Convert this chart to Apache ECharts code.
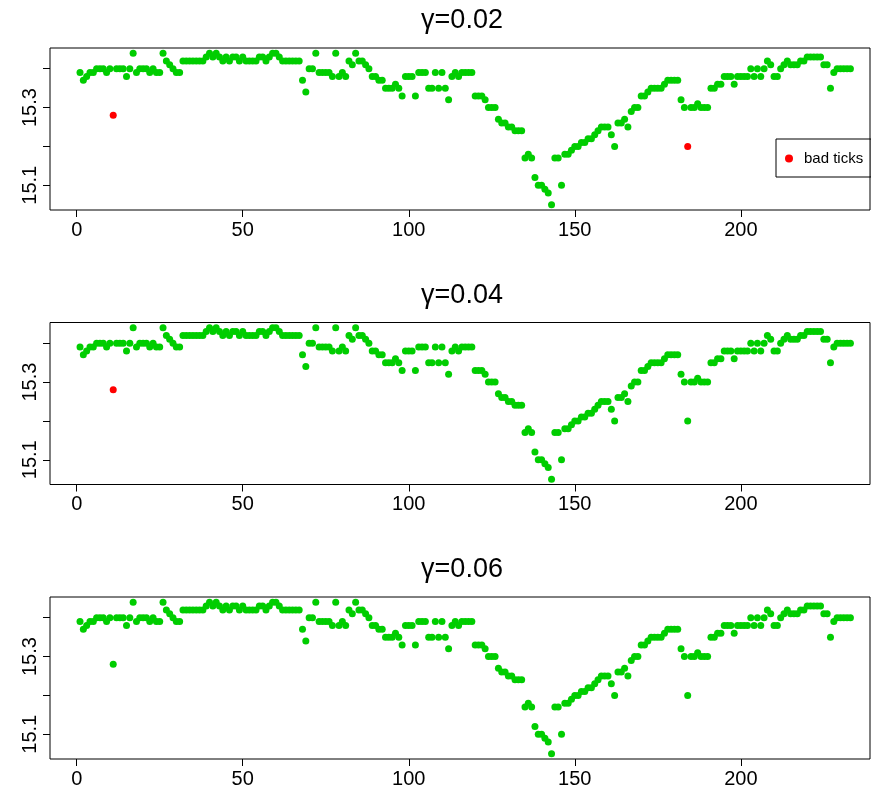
<!DOCTYPE html>
<html><head><meta charset="utf-8">
<script src="https://cdn.jsdelivr.net/npm/echarts@6/dist/echarts.min.js"></script>
<style>html,body{margin:0;padding:0;background:#fff}#c{width:871px;height:799px}</style>
</head><body><div id="c"></div>
<script>
// Price of each tick (tick index 1..233)
const prices = [
 15.39,15.37,15.38,15.39,15.39,15.40,15.40,15.40,15.39,15.40,
 15.28,15.40,15.40,15.40,15.38,15.40,15.44,15.39,15.40,15.40,
 15.40,15.39,15.40,15.39,15.39,15.44,15.42,15.41,15.40,15.39,
 15.39,15.42,15.42,15.42,15.42,15.42,15.42,15.42,15.43,15.44,
 15.43,15.44,15.43,15.42,15.43,15.42,15.43,15.43,15.42,15.43,
 15.42,15.42,15.42,15.42,15.43,15.43,15.42,15.43,15.44,15.44,
 15.43,15.42,15.42,15.42,15.42,15.42,15.42,15.37,15.34,15.40,
 15.40,15.44,15.39,15.39,15.39,15.39,15.38,15.44,15.38,15.39,
 15.38,15.42,15.41,15.44,15.42,15.42,15.41,15.40,15.38,15.38,
 15.37,15.37,15.35,15.35,15.35,15.36,15.35,15.33,15.38,15.38,
 15.38,15.33,15.39,15.39,15.39,15.35,15.35,15.39,15.35,15.39,
 15.35,15.32,15.38,15.39,15.38,15.39,15.39,15.39,15.39,15.33,
 15.33,15.33,15.32,15.30,15.30,15.30,15.27,15.26,15.26,15.25,
 15.25,15.24,15.24,15.24,15.17,15.18,15.17,15.12,15.10,15.10,
 15.09,15.08,15.05,15.17,15.17,15.10,15.18,15.18,15.19,15.20,
 15.20,15.21,15.21,15.22,15.22,15.23,15.24,15.25,15.25,15.25,
 15.23,15.20,15.26,15.26,15.27,15.25,15.29,15.30,15.30,15.33,
 15.33,15.34,15.35,15.35,15.35,15.35,15.36,15.37,15.37,15.37,
 15.37,15.32,15.30,15.20,15.30,15.30,15.31,15.30,15.30,15.30,
 15.35,15.35,15.36,15.36,15.38,15.38,15.38,15.36,15.38,15.38,
 15.38,15.38,15.40,15.38,15.40,15.38,15.40,15.42,15.41,15.38,
 15.38,15.40,15.41,15.42,15.41,15.41,15.41,15.42,15.42,15.43,
 15.43,15.43,15.43,15.43,15.41,15.41,15.35,15.39,15.40,15.40,
 15.40,15.40,15.40
];
const panelTitles = ['γ=0.02', 'γ=0.04', 'γ=0.06'];
const badTicks = [[11, 184], [11], []];   // tick indices flagged per panel
const xTickValues = [0, 50, 100, 150, 200];
const yTickValues = [15.1, 15.2, 15.3, 15.4];
const yLabelValues = [15.1, 15.3];
const legendLabel = 'bad ticks';

const FONT = 'Liberation Sans, Arial, sans-serif';
const PANEL_STEP = 274.5;
const chart = echarts.init(document.getElementById('c'), null, {renderer: 'canvas'});
const grids = [], xAxes = [], yAxes = [], series = [], graphics = [];

panelTitles.forEach((t, k) => {
  const off = PANEL_STEP * k;
  grids.push({left: 50, width: 820, top: 48 + off, height: 162, show: true,
    borderColor: '#000', borderWidth: 1, backgroundColor: 'transparent'});
  xAxes.push({type: 'value', gridIndex: k, min: -8.04, max: 238.9,
    axisLine: {show: false, onZero: false}, splitLine: {show: false},
    axisTick: {show: true, customValues: xTickValues, length: 7, lineStyle: {color: '#000', width: 1}},
    axisLabel: {customValues: xTickValues, fontSize: 20, color: '#000', margin: 10, fontFamily: FONT}});
  yAxes.push({type: 'value', gridIndex: k, min: 15.0363, max: 15.4533,
    axisLine: {show: false, onZero: false}, splitLine: {show: false},
    axisTick: {show: true, customValues: yTickValues, length: 7, lineStyle: {color: '#000', width: 1}},
    axisLabel: {customValues: yLabelValues, fontSize: 20, color: '#000', margin: 10, rotate: 90,
      fontFamily: FONT, formatter: v => v.toFixed(1)}});
  const bad = badTicks[k];
  const good = [], red = [];
  prices.forEach((p, i) => {
    const idx = i + 1;
    if (bad.includes(idx)) red.push([idx, p]); else good.push([idx, p]);
  });
  series.push({type: 'scatter', name: 'ticks', xAxisIndex: k, yAxisIndex: k, data: good,
    symbol: 'circle', symbolSize: 7, itemStyle: {color: '#00CD00', opacity: 1}, silent: true});
  series.push({type: 'scatter', name: legendLabel, xAxisIndex: k, yAxisIndex: k, data: red,
    symbol: 'circle', symbolSize: 7, itemStyle: {color: '#FF0000', opacity: 1}, silent: true});
  graphics.push({type: 'text', x: 462, y: 21 + off,
    style: {text: t, font: '27px ' + FONT, fill: '#000', textAlign: 'center', textVerticalAlign: 'middle'}});
});

chart.setOption({
  animation: false,
  backgroundColor: '#fff',
  grid: grids, xAxis: xAxes, yAxis: yAxes, series: series,
  graphic: graphics,
  legend: {show: true, data: [legendLabel], left: 776, top: 139, orient: 'vertical',
    borderColor: '#000', borderWidth: 1, borderRadius: 0, padding: [12, 8, 11, 9],
    itemWidth: 20, itemHeight: 8, icon: 'circle', selectedMode: false,
    itemStyle: {opacity: 1},
    textStyle: {fontSize: 15, fontFamily: FONT, color: '#000'}}
});
</script></body></html>
